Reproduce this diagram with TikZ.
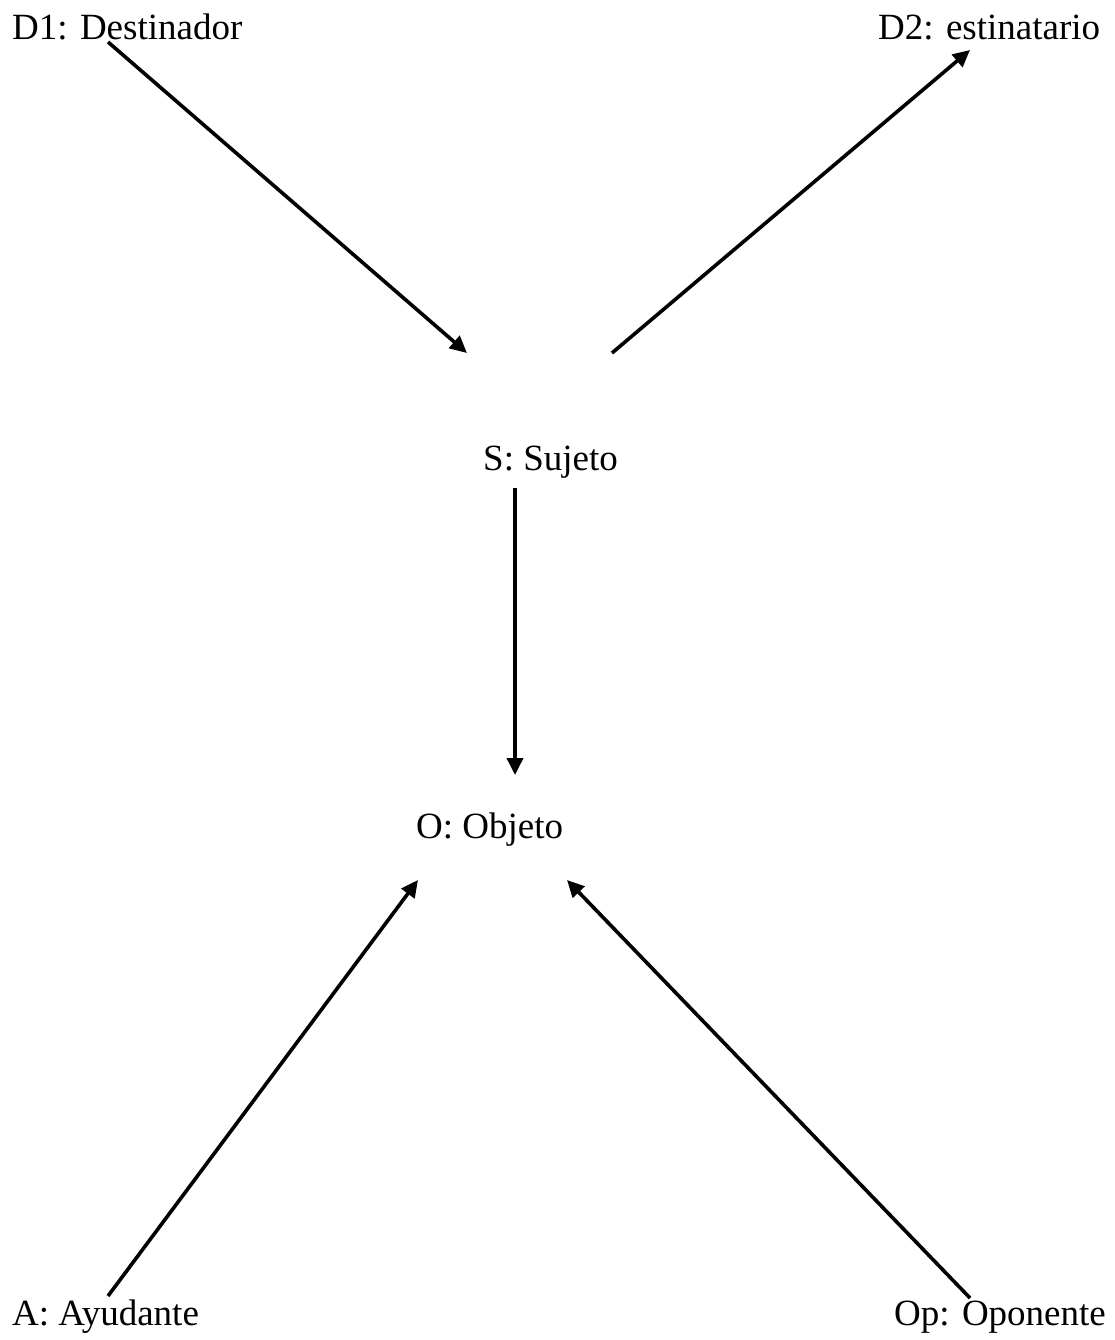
\documentclass[tikz,border=0pt]{standalone}
\usepackage{fontspec}
\setmainfont{Liberation Serif}
\usetikzlibrary{arrows.meta}
\begin{document}
\begin{tikzpicture}[x=1pt,y=-1pt,
  lbl/.style={inner sep=0pt,anchor=base west,font=\fontsize{37}{44}\selectfont},
  conn/.style={line width=3.6pt,-{Triangle[length=17pt,width=16pt]}}]
\useasboundingbox (0,0) rectangle (1115,1340);
\node[lbl] (d1) at (12,40) {D1: Destinador};
\node[lbl] (d2) at (878,40) {D2: estinatario};
\node[lbl] (s) at (483,470) {S: Sujeto};
\node[lbl] (o) at (416,838) {O: Objeto};
\node[lbl] (a) at (12,1325) {A: Ayudante};
\node[lbl] (op) at (894,1325) {Op: Oponente};
\coordinate (d1s) at (108,42);
\coordinate (d1e) at (467,353);
\coordinate (d2s) at (612,353);
\coordinate (d2e) at (970,50);
\coordinate (ss) at (515,488);
\coordinate (se) at (515,775);
\coordinate (as) at (108,1296);
\coordinate (ae) at (418,880);
\coordinate (ops) at (970,1298);
\coordinate (ope) at (567,880);
\draw[conn] (d1s) -- (d1e);
\draw[conn] (d2s) -- (d2e);
\draw[conn] (ss) -- (se);
\draw[conn] (as) -- (ae);
\draw[conn] (ops) -- (ope);
\end{tikzpicture}
\end{document}
